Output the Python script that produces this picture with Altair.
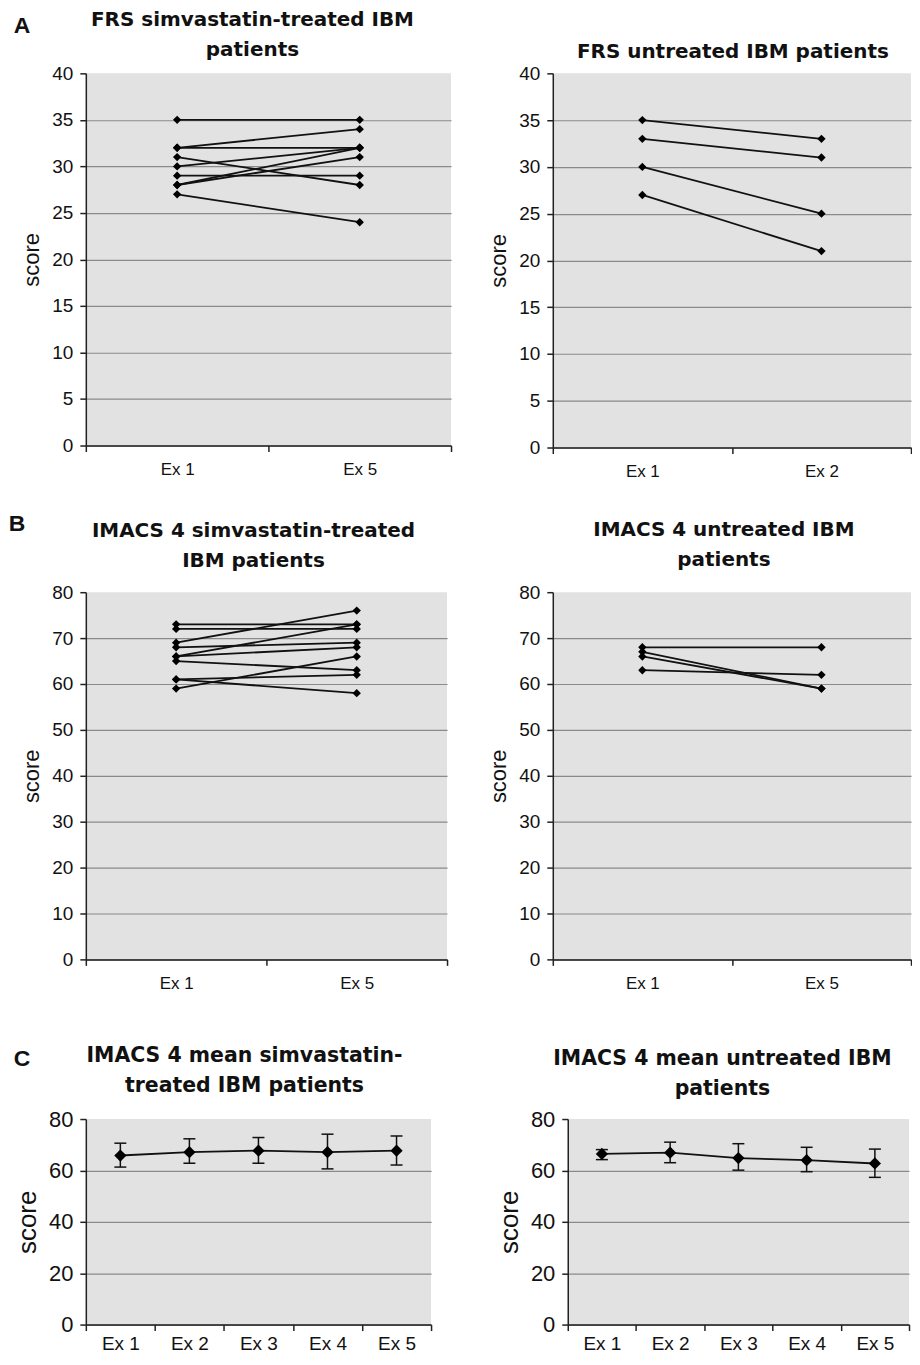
import altair as alt
import pandas as pd

# ---------------- data ----------------
EX_15 = ["Ex 1", "Ex 5"]
EX_12 = ["Ex 1", "Ex 2"]
EX_ALL = ["Ex 1", "Ex 2", "Ex 3", "Ex 4", "Ex 5"]

frs_treated_ex1 = [35, 32, 32, 31, 30, 29, 28, 28, 27]
frs_treated_ex5 = [35, 34, 32, 28, 32, 29, 32, 31, 24]

frs_untreated_ex1 = [35, 33, 30, 27]
frs_untreated_ex2 = [33, 31, 25, 21]

imacs_treated_ex1 = [73, 72, 69, 68, 66, 66, 65, 61, 61, 59]
imacs_treated_ex5 = [73, 72, 76, 69, 73, 68, 63, 62, 58, 66]

imacs_untreated_ex1 = [68, 67, 66, 63]
imacs_untreated_ex5 = [68, 59, 59, 62]

mean_treated = [65.8, 67.1, 67.7, 67.1, 67.7]
lo_treated = [61.3, 62.8, 62.8, 60.6, 62.1]
hi_treated = [70.6, 72.3, 72.8, 74.1, 73.4]

mean_untreated = [66.4, 66.9, 64.8, 64.0, 62.7]
lo_untreated = [64.2, 63.0, 60.1, 59.5, 57.3]
hi_untreated = [68.1, 71.0, 70.4, 69.0, 68.3]

INK = "#111111"


def x_enc(labels, label_size, pad):
    return alt.X(
        "exam:N",
        sort=labels,
        bandPosition=0.5,
        scale=alt.Scale(type="band", paddingInner=0, paddingOuter=0),
        axis=alt.Axis(
            title=None, labelAngle=0, tickBand="extent", grid=False,
            tickSize=6, labelPadding=pad, labelFontSize=label_size,
            domainWidth=1.5, tickWidth=1.5,
        ),
    )


def y_enc(ymax, step, label_size, title_size):
    return alt.Y(
        "score:Q",
        scale=alt.Scale(domain=[0, ymax], nice=False, zero=True),
        axis=alt.Axis(
            title="score", values=list(range(0, ymax + 1, step)),
            grid=True, gridColor="#8a8a8a", gridWidth=1.2,
            gridOpacity={"condition": {"test": f"datum.value >= {ymax}", "value": 0}, "value": 1},
            tickSize=6, labelPadding=7, labelFontSize=label_size,
            titleFontSize=title_size, titlePadding=8, titleFontWeight="normal",
            domainWidth=1.5, tickWidth=1.5,
        ),
    )


def panel_title(lines, t_offset, t_dx, size=20):
    return alt.TitleParams(
        lines, offset=t_offset, dx=t_dx, font="DejaVu Sans", fontWeight="bold",
        fontSize=size, color=INK, lineHeight=30, anchor="middle",
    )


def letter_layer(letter, lx, ly):
    return alt.Chart(pd.DataFrame({"t": [letter]})).mark_text(
        font="Liberation Sans", fontWeight="bold", fontSize=23, color=INK,
        align="center", baseline="alphabetic",
    ).encode(text="t:N", x=alt.value(lx), y=alt.value(ly))


def pair_panel(labels, v1, v2, w, h, ymax, step, title_lines, t_offset, t_dx,
               letter=None, lpos=(0, 0)):
    rows = []
    for i, (a, b) in enumerate(zip(v1, v2)):
        rows.append({"pid": i, "exam": labels[0], "score": a})
        rows.append({"pid": i, "exam": labels[1], "score": b})
    df = pd.DataFrame(rows)
    x = x_enc(labels, 17, 10)
    y = y_enc(ymax, step, 19, 22)
    base = alt.Chart(df)
    line = base.mark_line(color=INK, strokeWidth=1.8).encode(x=x, y=y, detail="pid:N")
    pts = base.mark_point(shape="diamond", filled=True, color="#000000",
                          size=70, opacity=1).encode(x=x, y=y)
    layers = [line, pts]
    if letter:
        layers.append(letter_layer(letter, *lpos))
    return alt.layer(*layers).properties(
        width=w, height=h, title=panel_title(title_lines, t_offset, t_dx),
    )


def mean_panel(mean, lo, hi, w, h, title_lines, t_offset, t_dx,
               letter=None, lpos=(0, 0)):
    df = pd.DataFrame({"exam": EX_ALL, "score": mean, "lo": lo, "hi": hi})
    x = x_enc(EX_ALL, 19, 4)
    y = y_enc(80, 20, 22, 26)
    base = alt.Chart(df)
    err = base.mark_rule(color=INK, strokeWidth=1.5).encode(
        x=x, y=alt.Y("lo:Q"), y2="hi:Q")
    cap_lo = base.mark_tick(color=INK, thickness=1.5, size=12, opacity=1).encode(
        x=x, y=alt.Y("lo:Q"))
    cap_hi = base.mark_tick(color=INK, thickness=1.5, size=12, opacity=1).encode(
        x=x, y=alt.Y("hi:Q"))
    line = base.mark_line(color=INK, strokeWidth=1.8).encode(x=x, y=y)
    pts = base.mark_point(shape="diamond", filled=True, color="#000000",
                          size=150, opacity=1).encode(x=x, y=y)
    layers = [line, err, cap_lo, cap_hi, pts]
    if letter:
        layers.append(letter_layer(letter, *lpos))
    return alt.layer(*layers).properties(
        width=w, height=h, title=panel_title(title_lines, t_offset, t_dx, 20.5),
    )


a_left = pair_panel(EX_15, frs_treated_ex1, frs_treated_ex5, 366, 373, 40, 5,
                    ["FRS simvastatin-treated IBM", "patients"], -44.8, -16,
                    letter="A", lpos=(-64, -40))
a_right = pair_panel(EX_12, frs_untreated_ex1, frs_untreated_ex2, 359, 375, 40, 5,
                     [" ", "FRS untreated IBM patients"], 2, 1)

b_left = pair_panel(EX_15, imacs_treated_ex1, imacs_treated_ex5, 362, 368, 80, 10,
                    ["IMACS 4 simvastatin-treated", "IBM patients"], -57.8, -13,
                    letter="B", lpos=(-69, -61))
b_right = pair_panel(EX_15, imacs_untreated_ex1, imacs_untreated_ex5, 359, 368, 80, 10,
                     ["IMACS 4 untreated IBM", "patients"], 13, -8)

c_left = mean_panel(mean_treated, lo_treated, hi_treated, 346, 206,
                    ["IMACS 4 mean simvastatin-", "treated IBM patients"], -48.1, -14,
                    letter="C", lpos=(-64, -53))
c_right = mean_panel(mean_untreated, lo_untreated, hi_untreated, 342, 206,
                     ["IMACS 4 mean untreated IBM", "patients"], 8.2, -16)

row_a = alt.hconcat(a_left, a_right, spacing=35)
row_b = alt.hconcat(b_left, b_right, spacing=39)
row_c = alt.hconcat(c_left, c_right, spacing=64)

chart = alt.vconcat(
    alt.vconcat(row_a, row_b, spacing=34),
    row_c,
    spacing=54,
).properties(
    padding={"left": 0, "top": 0, "right": 0, "bottom": 0},
    background="white",
).configure_view(
    fill="#e2e2e2", strokeWidth=0,
).configure_axis(
    domainColor="#222222", tickColor="#222222", labelColor=INK, titleColor=INK,
    labelFont="Liberation Sans", titleFont="Liberation Sans",
)

chart.save("out.html", embed_options={"renderer": "svg", "actions": False})
